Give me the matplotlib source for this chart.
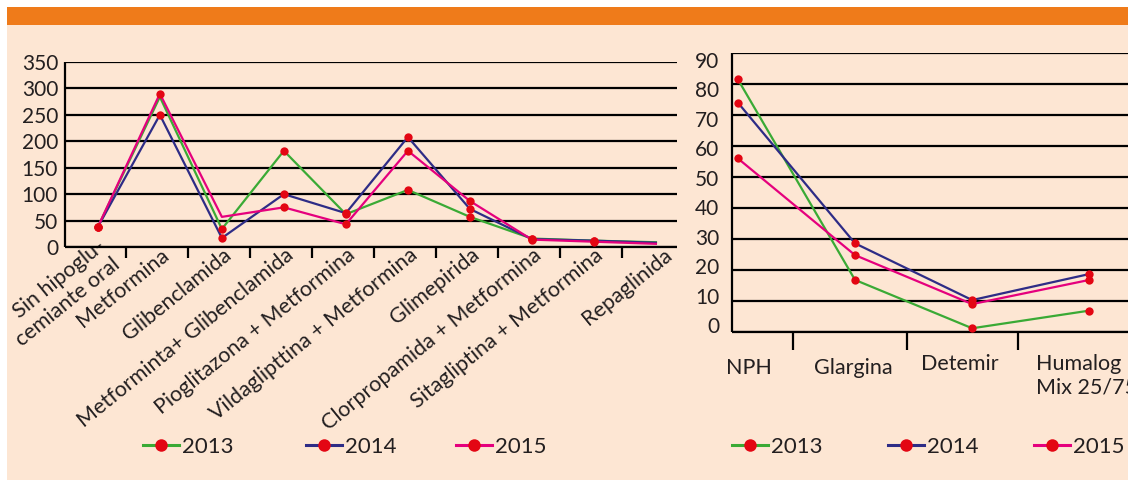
import matplotlib
matplotlib.use("Agg")
import matplotlib.pyplot as plt
from matplotlib.patches import Rectangle
from matplotlib.lines import Line2D
from matplotlib.transforms import ScaledTranslation

plt.rcParams['font.family'] = ['Lato', 'DejaVu Sans']

# ---- data ----
oral_labels = ["Sin hipoglu-\ncemiante oral", "Metformina", "Glibenclamida",
               "Metforminta+ Glibenclamida", "Pioglitazona + Metformina",
               "Vildaglipttina + Metformina", "Glimepirida",
               "Clorpropamida + Metformina", "Sitagliptina + Metformina",
               "Repaglinida"]
oral_2013 = [38, 284, 34, 182, 62, 108, 57, 16, 12, 9]
oral_2014 = [38, 250, 17, 100, 64, 208, 72, 15, 12, 8]
oral_2015 = [38, 290, 57, 75, 43, 182, 87, 14, 10, 6]
oral_yticks = [0, 50, 100, 150, 200, 250, 300, 350]

ins_labels = ["NPH", "Glargina", "Detemir", "Humalog\nMix 25/75"]
ins_2013 = [81.5, 16.8, 1.2, 6.9]
ins_2014 = [74, 28.6, 10.3, 18.7]
ins_2015 = [56, 24.8, 9, 16.8]
ins_yticks = [0, 10, 20, 30, 40, 50, 60, 70, 80, 90]

years = ["2013", "2014", "2015"]

# ---- style ----
W, H = 1128, 480
PEACH = '#FDE6D3'
ORANGE = '#EF7B1A'
C13, C14, C15 = '#3AAA35', '#2E2C86', '#E5007D'
RED = '#E30613'
INK = '#231F20'
FS = 15

fig = plt.figure(figsize=(W / 100, H / 100), dpi=100)
fig.patch.set_facecolor('white')
fig.add_artist(Rectangle((7 / W, 0), 1 - 7 / W, 1 - 25 / H, transform=fig.transFigure,
                         facecolor=PEACH, edgecolor='none', zorder=0))
fig.add_artist(Rectangle((7 / W, 1 - 25 / H), 1 - 7 / W, 18 / H, transform=fig.transFigure,
                         facecolor=ORANGE, edgecolor='none', zorder=0))


def px_axes(l, t, r, b):
    return fig.add_axes([l / W, 1 - b / H, (r - l) / W, (b - t) / H])


def style_axes(ax):
    ax.set_facecolor('none')
    for s in ['top', 'right']:
        ax.spines[s].set_visible(False)
    for s in ['left', 'bottom']:
        ax.spines[s].set_linewidth(1.6)
        ax.spines[s].set_color('black')
        ax.spines[s].set_capstyle('butt')
    ax.grid(axis='y', color='black', linewidth=1.6)
    ax.set_axisbelow(True)
    ax.tick_params(axis='y', length=0, labelsize=FS, colors=INK)


def draw_series(ax, x, series, markevery_list):
    for vals, col, me in zip(series, [C13, C14, C15], markevery_list):
        ax.plot(x, vals, color=col, linewidth=1.6, zorder=3, clip_on=False)
        ax.plot(x, vals, linestyle='none', marker='o', markersize=6,
                color=RED, markeredgewidth=0, markevery=me, zorder=4, clip_on=False)


def px_shift(dx, dy=0):
    return ScaledTranslation(dx / 100, -dy / 100, fig.dpi_scale_trans)


# ---- left chart ----
ax1 = px_axes(65, 62, 677, 247)
style_axes(ax1)
x1 = list(range(len(oral_labels)))
draw_series(ax1, x1, [oral_2013, oral_2014, oral_2015],
            [[0, 2, 3, 4, 5, 6, 7, 8], [0, 1, 2, 3, 4, 5, 6, 7, 8],
             [0, 1, 3, 4, 5, 6, 7, 8]])
ax1.set_xlim(-0.53, 9.34)
ax1.set_ylim(0, 350)
ax1.set_yticks(oral_yticks)
ax1.tick_params(axis='y', pad=5)
ax1.set_xticks(x1)
ax1.set_xticklabels(oral_labels, rotation=39, ha='right', va='center',
                    rotation_mode='anchor', multialignment='right',
                    fontsize=FS + 0.5, color=INK)
ax1.tick_params(axis='x', which='major', length=0, pad=4)
for i, lab in enumerate(ax1.get_xticklabels()):
    dx = 12 if i == 0 else (14 if i == 9 else 7)
    lab.set_transform(lab.get_transform() + px_shift(dx))
ax1.set_xticks([i + 0.45 for i in range(9)], minor=True)
ax1.tick_params(axis='x', which='minor', length=8, width=1.6, direction='out')

# ---- right chart ----
ax2 = px_axes(732, 53, 1128, 332)
style_axes(ax2)
x2 = list(range(len(ins_labels)))
draw_series(ax2, x2, [ins_2013, ins_2014, ins_2015], [None, None, None])
ax2.set_xlim(-0.05, 3.33)
ax2.set_ylim(0, 90)
ax2.set_yticks(ins_yticks)
ax2.tick_params(axis='y', labelleft=False)
sec = ax2.secondary_yaxis('left', functions=(lambda d: (3.1 * d - 7) / 2.944,
                                            lambda v: (2.944 * v + 7) / 3.1))
sec.spines['left'].set_visible(False)
sec.set_yticks(ins_yticks)
sec.tick_params(axis='y', length=0, pad=9, labelsize=FS, colors=INK)
ax2.set_xticks(x2)
ax2.set_xticklabels(ins_labels, fontsize=FS + 0.5, color=INK, ha='center',
                    multialignment='left')
ax2.tick_params(axis='x', which='major', length=0, pad=19)
for lab, (dx, dy) in zip(ax2.get_xticklabels(), [(11, 0), (-2, 0), (-12, -4), (-3, -4)]):
    lab.set_transform(lab.get_transform() + px_shift(dx, dy))
ax2.set_xticks([0.47, 1.44, 2.39], minor=True)
ax2.tick_params(axis='x', which='minor', length=13, width=1.6, direction='out')

# ---- legends (one entry each, placed where the reference has them) ----
leg_x = {"left": [143, 306, 456], "right": [732, 888, 1034]}
for side in ["left", "right"]:
    for yr, col, x0 in zip(years, [C13, C14, C15], leg_x[side]):
        h = Line2D([], [], color=col, linewidth=2.2, marker='o', markersize=9,
                   markerfacecolor=RED, markeredgewidth=0)
        fig.legend([h], [yr], loc='center left', bbox_to_anchor=(x0 / W, 1 - 447 / H),
                   frameon=False, fontsize=FS + 1, borderpad=0, borderaxespad=0,
                   handlelength=1.6, handletextpad=0.15, labelcolor=INK)

fig.savefig('out.png', dpi=100, facecolor=fig.get_facecolor())
